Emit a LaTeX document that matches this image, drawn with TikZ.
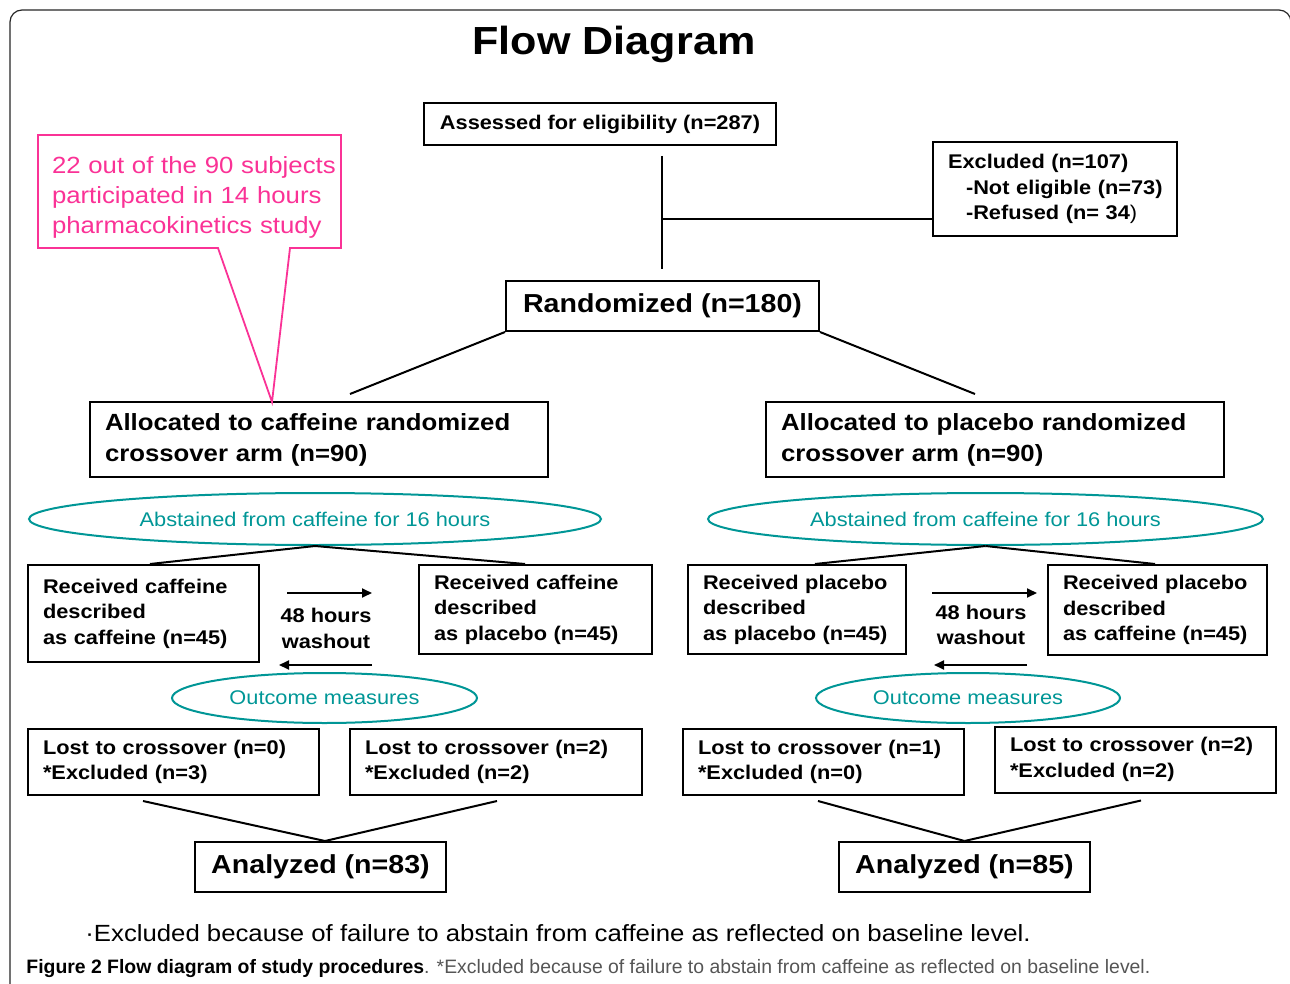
\documentclass[tikz,border=0pt]{standalone}
\usepackage{fontspec}
\setmainfont{Liberation Sans}[FakeStretch=1.1]
\newfontfamily\capfont{Liberation Sans}
\usepackage{tikz}
\usetikzlibrary{calc}
\usetikzlibrary{arrows.meta,shapes.geometric}
\definecolor{notepink}{RGB}{250,50,150}
\definecolor{ovalteal}{RGB}{0,150,150}
\definecolor{capgray}{RGB}{85,85,85}
\tikzset{
  flowbox/.style={draw, line width=1pt, inner sep=0pt, font=\fontsize{9.9}{12.75}\selectfont\bfseries},
  textbox/.style 2 args={flowbox, minimum width=#1, minimum height=#2, text width=#1, align=left, execute at begin node={\leftskip=7.5pt\relax}},
  ovalnode/.style={ellipse, draw=ovalteal, line width=1pt, inner sep=0pt, text=ovalteal, font=\fontsize{9.9}{11}\selectfont}
}

\begin{document}
\begin{tikzpicture}[
    x=0.5pt, y=-0.5pt, % one unit = one pixel of the layout, y downwards
    link/.style={line width=1pt},
    washarrow/.style={line width=0.9pt, -{Triangle[length=5pt, width=4.5pt]}},
    bignode/.style={font=\fontsize{13}{15}\selectfont\bfseries}
]
    \useasboundingbox (0,0) rectangle (1290,984);

    % outer frame
    \draw[line width=0.6pt, black!85, rounded corners=6pt] (10,990) -- (10,10) -- (1291,10) -- (1291,20);

    \node[font=\fontsize{19.6}{23}\selectfont\bfseries] (title) at (614,44) {Flow Diagram};

    % Define nodes
    \node[flowbox, minimum width=176pt, minimum height=21pt] (assess) at (600,124) {Assessed for eligibility (n=287)};
    \node[textbox={122pt}{47pt}] (excl) at (1055,189) {Excluded (n=107)\\\hspace*{9pt}-Not eligible (n=73)\\\hspace*{9pt}-Refused (n= 34{\mdseries )}};
    \node[flowbox, bignode, minimum width=156.5pt, minimum height=25pt] (rand) at (662.5,306) {Randomized (n=180)};

    \node[textbox={229pt}{37.5pt}, font=\fontsize{11.7}{15.5}\selectfont\bfseries] (cafarm) at (319,439.5) {Allocated to caffeine randomized\\crossover arm (n=90)};
    \node[textbox={229pt}{37.5pt}, font=\fontsize{11.7}{15.5}\selectfont\bfseries] (plaarm) at (995,439.5) {Allocated to placebo randomized\\crossover arm (n=90)};

    \node[ovalnode, minimum width=286pt, minimum height=26pt] (absL) at (315,519) {Abstained from caffeine for 16 hours};
    \node[ovalnode, minimum width=277.5pt, minimum height=26pt] (absR) at (985.5,519) {Abstained from caffeine for 16 hours};

    \node[textbox={115.5pt}{48.5pt}] (cc) at (143.5,613.5) {Received caffeine\\described\\as caffeine (n=45)};
    \node[textbox={116.5pt}{44.5pt}] (cp) at (535.5,609.5) {Received caffeine\\described\\as placebo (n=45)};
    \node[textbox={109pt}{44.5pt}] (pp) at (797,609.5) {Received placebo\\described\\as placebo (n=45)};
    \node[textbox={109.5pt}{45pt}] (pc) at (1157.5,610) {Received placebo\\described\\as caffeine (n=45)};

    \node[font=\fontsize{9.9}{12.75}\selectfont\bfseries, align=center] (wL) at (326,628.5) {48 hours\\washout};
    \node[font=\fontsize{9.9}{12.75}\selectfont\bfseries, align=center] (wR) at (981,625) {48 hours\\washout};

    \node[ovalnode, minimum width=152.5pt, minimum height=25pt] (outL) at (324.5,698) {Outcome measures};
    \node[ovalnode, minimum width=152pt, minimum height=25pt] (outR) at (968,698) {Outcome measures};

    \node[textbox={145.5pt}{33pt}] (lcc) at (173.5,762) {Lost to crossover (n=0)\\{*}Excluded (n=3)};
    \node[textbox={146pt}{33pt}] (lcp) at (496,762) {Lost to crossover (n=2)\\{*}Excluded (n=2)};
    \node[textbox={140.5pt}{33pt}] (lpp) at (823.5,762) {Lost to crossover (n=1)\\{*}Excluded (n=0)};
    \node[textbox={140.5pt}{33pt}] (lpc) at (1135.5,759.5) {Lost to crossover (n=2)\\{*}Excluded (n=2)};

    \node[flowbox, bignode, minimum width=125.5pt, minimum height=25pt] (anaL) at (320.5,867) {Analyzed (n=83)};
    \node[flowbox, bignode, minimum width=125.5pt, minimum height=25pt] (anaR) at (964.5,867) {Analyzed (n=85)};

    % callout
    \node[text=notepink, text width=151.5pt, inner sep=0pt, align=left, font=\fontsize{11.7}{15}\selectfont, execute at begin node={\leftskip=7pt\relax}] (note) at (189.5,197) {22 out of the 90 subjects\\participated in 14 hours\\pharmacokinetics study};
    \draw[notepink, line width=0.9pt] ($(note.center)+(-151.5,-62)$) -- ($(note.center)+(151.5,-62)$) -- ($(note.center)+(151.5,51)$) -- ($(note.center)+(100.5,51)$) -- ($(cafarm.north west)+(183,1)$) -- ($(note.center)+(28.5,51)$) -- ($(note.center)+(-151.5,51)$) -- cycle;

    % Draw edges
    \coordinate (junc) at ($(assess.south)+(62,73)$);
    \draw[link] ($(assess.south)+(62,10)$) -- ($(rand.north)+(-0.5,-11)$);
    \draw[link] (junc) -- (junc -| excl.west);
    \draw[link] (rand.south west) -- ($(cafarm.north)+(31,-7)$);
    \draw[link] (rand.south east) -- ($(plaarm.north)+(-20,-7)$);

    \draw[link] (absL.south) -- ($(cc.north)+(6.5,0)$);
    \draw[link] (absL.south) -- ($(cp.north)+(-10.5,0)$);
    \draw[link] (absR.south) -- ($(pp.north)+(18,0)$);
    \draw[link] (absR.south) -- ($(pc.north)+(-2.5,0)$);

    \draw[link] ($(lcc.south)+(-30.5,5)$) -- ($(anaL.north)+(4.5,0)$);
    \draw[link] ($(lcp.south)+(1,5)$) -- ($(anaL.north)+(4.5,0)$);
    \draw[link] ($(lpp.south)+(-5.5,5)$) -- (anaR.north);
    \draw[link] ($(lpc.south)+(5.5,7)$) -- (anaR.north);

    % washout arrows
    \draw[washarrow] ($(wL.center)+(-39,-35.5)$) -- ($(wL.center)+(46,-35.5)$);
    \draw[washarrow] ($(wL.center)+(46,36.5)$) -- ($(wL.center)+(-47,36.5)$);
    \draw[washarrow] ($(wR.center)+(-49,-32)$) -- ($(wR.center)+(56,-32)$);
    \draw[washarrow] ($(wR.center)+(46,40)$) -- ($(wR.center)+(-47,40)$);

    % footnote and caption
    \node[anchor=base west, inner sep=0pt, font=\fontsize{11.7}{13}\selectfont] (foot) at (85,941) {·Excluded because of failure to abstain from caffeine as reflected on baseline level.};
    \node[anchor=base west, inner sep=0pt, font=\capfont\fontsize{9.7}{12}\selectfont] (caption) at (26,973) {\textbf{Figure 2 Flow diagram of study procedures}\textcolor{capgray}{. *Excluded because of failure to abstain from caffeine as reflected on baseline level.}};

\end{tikzpicture}
\end{document}
